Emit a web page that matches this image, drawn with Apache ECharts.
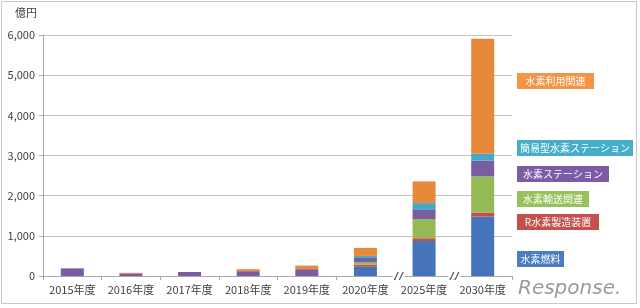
<!DOCTYPE html>
<html>
<head>
<meta charset="utf-8">
<script src="https://cdn.jsdelivr.net/npm/echarts@6/dist/echarts.min.js"></script>
<style>
html,body{margin:0;padding:0;background:#fff;}
#c{width:640px;height:308px;}
</style>
</head>
<body>
<div id="c"></div>
<script>
// ---- data ----
const categories = ['2015年度','2016年度','2017年度','2018年度','2019年度','2020年度','2025年度','2030年度'];
const seriesNames = ['水素燃料','R水素製造装置','水素輸送関連','水素ステーション','簡易型水素ステーション','水素利用関連'];
const fuel          = [0,   0,   0,   0,   0,  230,  870, 1480];
const manufacturing = [0,   0,   0,   0,   0,   50,   70,  100];
const transport     = [0,   0,   0,   0,   0,   60,  475,  900];
const station       = [190, 65, 100, 120, 170, 110,  230,  390];
const simpleStation = [0,   0,   0,   0,   0,   50,  170,  175];
const usage         = [0,  15,   0,  50,  90,  200,  540, 2860];
const yTicks = [0,1000,2000,3000,4000,5000,6000];
const yUnit = '億円';
const watermark = 'Response.';

const colors = ['#4574BA','#C0504D','#94B955','#7A5CA0','#45A8C4','#E8883B'];
const legendColors = ['#4A7CC2','#C4504C','#97C15A','#7C5CA6','#46AECB','#F59445'];
const seriesData = [fuel, manufacturing, transport, station, simpleStation, usage];

const FONT = '"Noto Sans CJK JP","Noto Sans",sans-serif';
const chart = echarts.init(document.getElementById('c'), null, {renderer:'canvas'});

const option = {
  animation:false,
  backgroundColor:'#fff',
  grid:{left:43, right:128, top:35, bottom:32, containLabel:false},
  xAxis:{
    type:'category', data:categories, boundaryGap:true,
    axisLine:{lineStyle:{color:'#a6a6a6', width:1}},
    axisTick:{show:true, length:4, lineStyle:{color:'#a6a6a6'}},
    axisLabel:{color:'#404040', fontSize:11, fontFamily:FONT, margin:8, interval:0, hideOverlap:false}
  },
  yAxis:{
    type:'value', min:yTicks[0], max:yTicks[yTicks.length-1], interval:1000,
    axisLine:{show:true, lineStyle:{color:'#a6a6a6'}},
    axisTick:{show:true, length:4, lineStyle:{color:'#a6a6a6'}},
    splitLine:{lineStyle:{color:'#c4c4c4', width:1}},
    axisLabel:{color:'#404040', fontSize:11, fontFamily:FONT, margin:8,
      formatter:v=>v.toLocaleString('en-US')}
  },
  series: seriesNames.map((n,i)=>({
    name:n, type:'bar', stack:'total', barWidth:23,
    data:seriesData[i], itemStyle:{color:colors[i]}
  }))
};
chart.setOption(option);

// ---- decorations: legend boxes, unit, axis breaks, watermark, frame ----
const legendBoxes = [
  {i:5, y:73, w:77},
  {i:4, y:140, w:116},
  {i:3, y:166, w:92},
  {i:2, y:191, w:72},
  {i:1, y:214, w:82},
  {i:0, y:251, w:47}
];
const graphics = [];
graphics.push({type:'rect', shape:{x:1.5,y:1.5,width:635,height:302}, style:{fill:null, stroke:'#c8c8c8', lineWidth:1}, z:0, silent:true});
graphics.push({type:'text', x:15, y:7, style:{text:yUnit, fill:'#404040', font:'11px '+FONT}});
legendBoxes.forEach(b=>{
  graphics.push({type:'rect', shape:{x:517, y:b.y, width:b.w, height:16}, style:{fill:legendColors[b.i]}});
  graphics.push({type:'text', x:517+b.w/2, y:b.y+8, style:{text:seriesNames[b.i], fill:'#fff', font:'10px '+FONT, align:'center', verticalAlign:'middle'}});
});
// axis breaks between categories 5|6 and 6|7
const px = i => chart.convertToPixel({xAxisIndex:0}, i);
const y0 = chart.convertToPixel({yAxisIndex:0}, 0);
const band = px(1)-px(0);
[[5,4],[6,1]].forEach(([i,off])=>{
  const cx = px(i) + band/2 + off;
  graphics.push({type:'rect', shape:{x:cx-6, y:y0-3, width:12, height:6}, style:{fill:'#fff'}, z:50});
  [-2.5, 2.5].forEach(d=>{
    graphics.push({type:'line', shape:{x1:cx+d-2, y1:y0+4, x2:cx+d+2, y2:y0-4}, style:{stroke:'#595959', lineWidth:1.2}, z:51});
  });
});
graphics.push({type:'text', x:518, y:279, style:{text:watermark, fill:'#9a9a9a', font:'italic 20px "DejaVu Sans",sans-serif'}, z:60});
chart.setOption({graphic:graphics});
</script>
</body>
</html>
